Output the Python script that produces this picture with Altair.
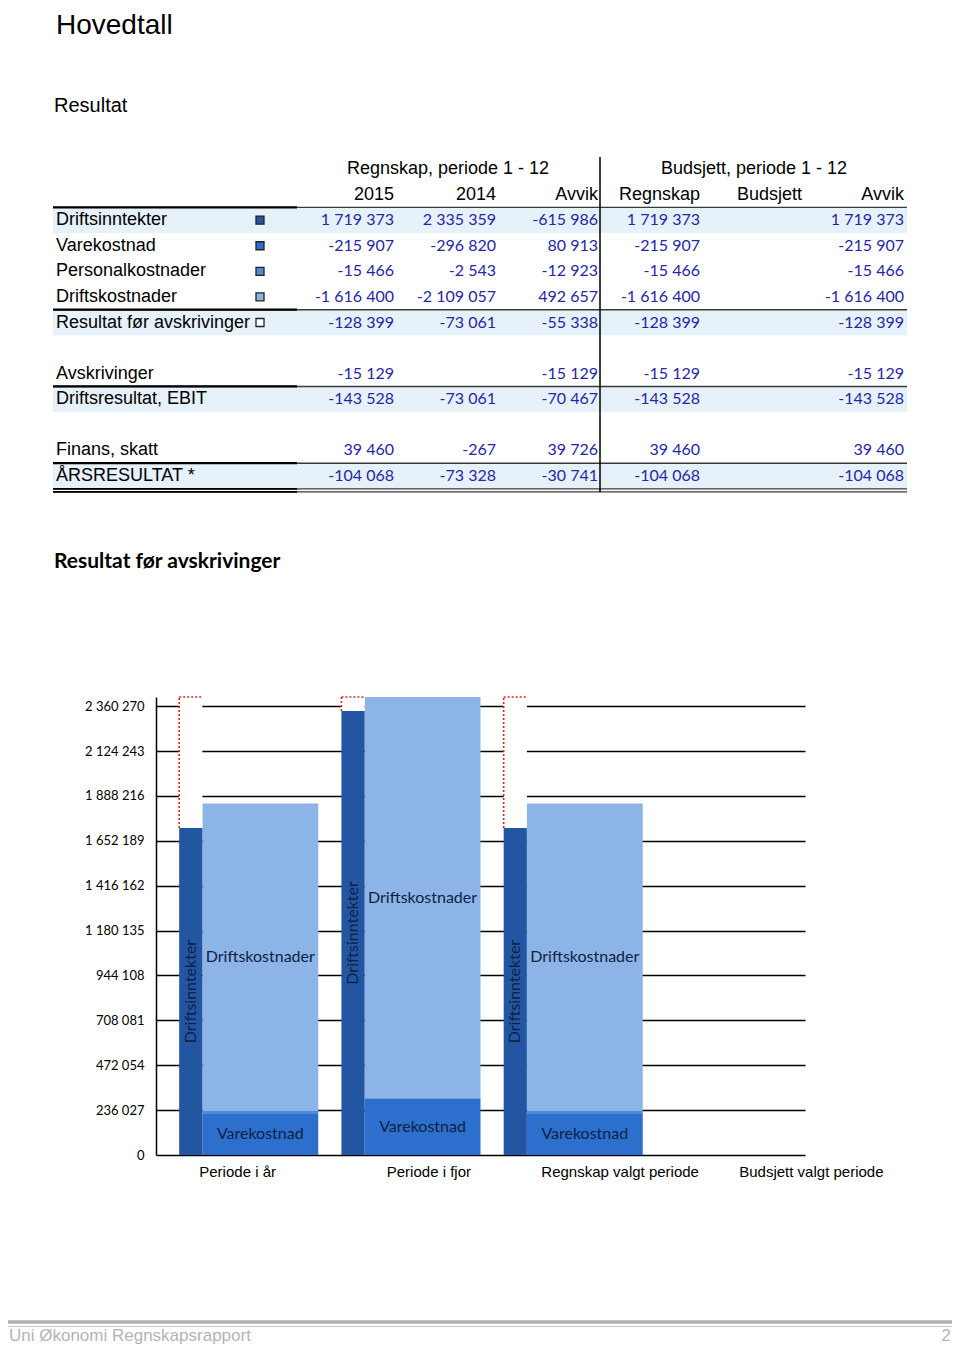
import altair as alt
import pandas as pd

# ---------------- data: table ----------------
row_labels = ["Driftsinntekter", "Varekostnad", "Personalkostnader", "Driftskostnader",
              "Resultat før avskrivinger", "", "Avskrivinger", "Driftsresultat, EBIT", "",
              "Finans, skatt", "ÅRSRESULTAT *"]
regnskap_2015 = [1719373, -215907, -15466, -1616400, -128399, None, -15129, -143528, None, 39460, -104068]
regnskap_2014 = [2335359, -296820, -2543, -2109057, -73061, None, None, -73061, None, -267, -73328]
avvik_aar = [-615986, 80913, -12923, 492657, -55338, None, -15129, -70467, None, 39726, -30741]
budsj_regnskap = [1719373, -215907, -15466, -1616400, -128399, None, -15129, -143528, None, 39460, -104068]
budsjett = [None, None, None, None, None, None, None, None, None, None, None]
avvik_budsjett = [1719373, -215907, -15466, -1616400, -128399, None, -15129, -143528, None, 39460, -104068]

col_keys = ["c2015", "c2014", "cavvik1", "cregn", "cbud", "cavvik2"]
col_headers = ["2015", "2014", "Avvik", "Regnskap", "Budsjett", "Avvik"]
group_headers = ["Regnskap, periode 1 - 12", "Budsjett, periode 1 - 12"]
group_header_cols = ["c2014", "cbud"]
highlight_rows = ["Driftsinntekter", "Resultat før avskrivinger", "Driftsresultat, EBIT", "ÅRSRESULTAT *"]
legend_rows = ["Driftsinntekter", "Varekostnad", "Personalkostnader", "Driftskostnader",
               "Resultat før avskrivinger"]

# ---------------- data: chart ----------------
categories = ["Periode i år", "Periode i fjor", "Regnskap valgt periode", "Budsjett valgt periode"]
driftsinntekter = [1719373, 2335359, 1719373, 0]
varekostnad = [215907, 296820, 215907, 0]
personalkostnader = [15466, 2543, 15466, 0]
driftskostnader = [1616400, 2109057, 1616400, 0]
y_ticks = [0, 236027, 472054, 708081, 944108, 1180135, 1416162, 1652189, 1888216, 2124243, 2360270]

series_colors = {
    "Driftsinntekter": "#2256a3",
    "Varekostnad": "#2c6fcd",
    "Personalkostnader": "#5089d8",
    "Driftskostnader": "#8db4e6",
    "Resultat før avskrivinger": "#ffffff",
}

# ---------------- build tables ----------------
def fmt(v):
    return f"{v:,}".replace(",", " ")

col_values = [regnskap_2015, regnskap_2014, avvik_aar, budsj_regnskap, budsjett, avvik_budsjett]
num_rows = []
for i, lab in enumerate(row_labels):
    for key, vals in zip(col_keys, col_values):
        if vals[i] is not None:
            num_rows.append({"row": i + 2, "col": key, "text": fmt(vals[i])})
num_df = pd.DataFrame(num_rows)

label_df = pd.DataFrame([{"row": i + 2, "label": lab} for i, lab in enumerate(row_labels) if lab])
hl_df = pd.DataFrame([{"row": row_labels.index(l) + 2} for l in highlight_rows])
last_df = pd.DataFrame([{"row": row_labels.index("ÅRSRESULTAT *") + 2}])
legend_df = pd.DataFrame([{"row": row_labels.index(l) + 2, "series": l} for l in legend_rows])
head1_df = pd.DataFrame({"col": col_keys, "text": col_headers, "row": 1})
head0_df = pd.DataFrame({"col": group_header_cols, "text": group_headers, "row": 0})

stack_rows = []
for gi, cat in enumerate(categories):
    for order, (name, vals) in enumerate([("Varekostnad", varekostnad),
                                          ("Personalkostnader", personalkostnader),
                                          ("Driftskostnader", driftskostnader)]):
        stack_rows.append({"cat": cat, "gi": gi, "series": name, "order": order, "value": vals[gi]})
stack_df = pd.DataFrame(stack_rows)
inn_df = pd.DataFrame({"cat": categories, "gi": list(range(len(categories))),
                       "series": "Driftsinntekter", "value": driftsinntekter})
y_top = max(v + p + d for v, p, d in zip(varekostnad, personalkostnader, driftskostnader))
cat_df = pd.DataFrame({"cat": categories})

# ---------------- scales / helpers ----------------
ARIAL = "Liberation Sans"
CALIBRI = "Lato"
N_ROWS = 13
ROW_RANGE = [-540.8, -208.2]
COL_RANGE = [136, 748]
SLOTS = 7

def row_y(band=0.5):
    return alt.Y("row:O", scale=alt.Scale(type="band", domain=list(range(N_ROWS)), range=ROW_RANGE,
                                          paddingInner=0, paddingOuter=0),
                 axis=None, bandPosition=band)

def col_x(band):
    return alt.X("col:N", scale=alt.Scale(type="band", domain=col_keys, range=COL_RANGE,
                                          paddingInner=0, paddingOuter=0),
                 axis=None, bandPosition=band)

color_scale = alt.Scale(domain=list(series_colors.keys()), range=list(series_colors.values()))
bx_scale = alt.Scale(domain=[0, SLOTS * len(categories)], nice=False, zero=False)
by_scale = alt.Scale(domain=[0, y_top], nice=False, zero=True)

one = pd.DataFrame({"k": [0]})

# ---------------- table layers ----------------
bg = alt.Chart(hl_df).mark_rect(color="#e6f1fa").encode(
    y=alt.Y("row:O", scale=alt.Scale(type="band", domain=list(range(N_ROWS)), range=ROW_RANGE,
                                     paddingInner=0, paddingOuter=0), axis=None),
    x=alt.value(-103), x2=alt.value(751))

line_thin = alt.Chart(hl_df).mark_rule(color="#3a3a3a", strokeWidth=1.4).encode(
    y=row_y(0), x=alt.value(-103), x2=alt.value(751))
line_thick = alt.Chart(hl_df).mark_rule(color="#000000", strokeWidth=2.2).encode(
    y=row_y(0), x=alt.value(-103), x2=alt.value(141))
dbl1 = alt.Chart(last_df).mark_rule(color="#3a3a3a", strokeWidth=1.3).encode(
    y=row_y(1), x=alt.value(-103), x2=alt.value(751))
dbl2 = alt.Chart(last_df).mark_rule(color="#3a3a3a", strokeWidth=1.3, yOffset=3).encode(
    y=row_y(1), x=alt.value(-103), x2=alt.value(751))
dbl1b = alt.Chart(last_df).mark_rule(color="#000000", strokeWidth=1.8).encode(
    y=row_y(1), x=alt.value(-103), x2=alt.value(141))
dbl2b = alt.Chart(last_df).mark_rule(color="#000000", strokeWidth=1.8, yOffset=3).encode(
    y=row_y(1), x=alt.value(-103), x2=alt.value(141))
vline = alt.Chart(one).mark_rule(color="#000000", strokeWidth=1.5).encode(
    x=alt.value(444), y=alt.value(-540), y2=alt.value(-205))

row_text = alt.Chart(label_df).mark_text(align="left", baseline="middle", font=ARIAL,
                                         fontSize=18, color="#000000").encode(
    y=row_y(), x=alt.value(-100), text="label:N")
num_text = alt.Chart(num_df).mark_text(align="right", baseline="middle", font=CALIBRI,
                                       fontSize=16, color="#2626a6").encode(
    y=row_y(), x=col_x(1), text="text:N")
head1_text = alt.Chart(head1_df).mark_text(align="right", baseline="middle", font=ARIAL,
                                           fontSize=18, color="#000000").encode(
    y=row_y(), x=col_x(1), text="text:N")
head0_text = alt.Chart(head0_df).mark_text(align="center", baseline="middle", font=ARIAL,
                                           fontSize=18, color="#000000", dx=3).encode(
    y=row_y(), x=col_x(0.5), text="text:N")
squares = alt.Chart(legend_df).mark_square(size=64, stroke="#222222", strokeWidth=1.3,
                                           opacity=1).encode(
    y=row_y(), x=alt.value(104),
    fill=alt.Fill("series:N", scale=color_scale, legend=None))

title_main = alt.Chart(one).mark_text(align="left", baseline="alphabetic", font=ARIAL,
                                      fontSize=28, color="#000000").encode(
    x=alt.value(-100), y=alt.value(-663), text=alt.value("Hovedtall"))
title_res = alt.Chart(one).mark_text(align="left", baseline="middle", font=ARIAL,
                                     fontSize=20, color="#000000").encode(
    x=alt.value(-102), y=alt.value(-591), text=alt.value("Resultat"))
title_chart = alt.Chart(one).mark_text(align="left", baseline="middle", font=CALIBRI,
                                       fontSize=21, fontWeight="bold", color="#000000").encode(
    x=alt.value(-102), y=alt.value(-135), text=alt.value("Resultat før avskrivinger"))

# ---------------- chart layers ----------------
stack_base = alt.Chart(stack_df).transform_window(
    top="sum(value)", groupby=["gi"], sort=[alt.SortField("order")], frame=[None, 0]
).transform_calculate(
    bottom="datum.top - datum.value",
    mid="(datum.top + datum.bottom) / 2",
    x0=f"datum.gi * {SLOTS} + 2",
    x1=f"datum.gi * {SLOTS} + {SLOTS}",
    xm=f"datum.gi * {SLOTS} + ({SLOTS} + 2) / 2",
).transform_filter("datum.value > 0")

wide_bars = stack_base.mark_bar().encode(
    x=alt.X("x0:Q", scale=bx_scale, axis=None), x2="x1:Q",
    y=alt.Y("bottom:Q", scale=by_scale, title=None,
            axis=alt.Axis(orient="left", values=y_ticks,
                          labelExpr="replace(format(datum.value, ',d'), regexp(',', 'g'), ' ')",
                          grid=True, gridColor="#000000", gridWidth=1.5, gridOpacity=1,
                          domain=True, domainColor="#000000", domainWidth=1.5,
                          ticks=False, labelPadding=12, labelFont=CALIBRI, labelFontSize=13,
                          labelColor="#000000")),
    y2="top:Q",
    fill=alt.Fill("series:N", scale=color_scale, legend=None))

wide_labels = stack_base.transform_filter(
    "datum.series != 'Personalkostnader'"
).mark_text(font=CALIBRI, fontSize=16, color="#0e2244", baseline="middle").encode(
    x=alt.X("xm:Q", scale=bx_scale, axis=None),
    y=alt.Y("mid:Q", scale=by_scale, axis=None),
    text="series:N")

inn_base = alt.Chart(inn_df).transform_filter("datum.value > 0").transform_calculate(
    x0=f"datum.gi * {SLOTS} + 1",
    x1=f"datum.gi * {SLOTS} + 2",
    xm=f"datum.gi * {SLOTS} + 1.5",
    mid="datum.value / 2",
    ytop=f"{y_top}",
)

remainder = inn_base.mark_bar(color="#ffffff").encode(
    x=alt.X("x0:Q", scale=bx_scale, axis=None), x2="x1:Q",
    y=alt.Y("value:Q", scale=by_scale, axis=None), y2="ytop:Q")
red_left = inn_base.mark_rule(color="#e0261e", strokeWidth=1.6, strokeDash=[2, 2]).encode(
    x=alt.X("x0:Q", scale=bx_scale, axis=None),
    y=alt.Y("value:Q", scale=by_scale, axis=None), y2="ytop:Q")
red_top = inn_base.mark_rule(color="#e0261e", strokeWidth=1.6, strokeDash=[2, 2]).encode(
    x=alt.X("x0:Q", scale=bx_scale, axis=None), x2="x1:Q",
    y=alt.Y("ytop:Q", scale=by_scale, axis=None))
inn_bars = inn_base.mark_bar().encode(
    x=alt.X("x0:Q", scale=bx_scale, axis=None), x2="x1:Q",
    y=alt.Y("value:Q", scale=by_scale, axis=None), y2=alt.datum(0),
    fill=alt.Fill("series:N", scale=color_scale, legend=None))
inn_labels = inn_base.mark_text(font=CALIBRI, fontSize=16, color="#0e2244", angle=270,
                                baseline="middle").encode(
    x=alt.X("xm:Q", scale=bx_scale, axis=None),
    y=alt.Y("mid:Q", scale=by_scale, axis=None),
    text="series:N")

cat_labels = alt.Chart(cat_df).mark_text(font=ARIAL, fontSize=15, color="#000000",
                                         baseline="middle").encode(
    x=alt.X("cat:N", scale=alt.Scale(type="band", domain=categories, range=[-14, 751],
                                     paddingInner=0, paddingOuter=0),
            axis=None, bandPosition=0.5),
    y=alt.value(475), text="cat:N")

# ---------------- footer ----------------
foot1 = alt.Chart(one).mark_rule(color="#b0b0b0", strokeWidth=3.5).encode(
    x=alt.value(-148), x2=alt.value(796), y=alt.value(625))
foot2 = alt.Chart(one).mark_rule(color="#c8c8c8", strokeWidth=1.2).encode(
    x=alt.value(-148), x2=alt.value(796), y=alt.value(629.5))
foot_text = alt.Chart(one).mark_text(align="left", baseline="middle", font=ARIAL, fontSize=17,
                                     color="#b4b4b4").encode(
    x=alt.value(-147), y=alt.value(639), text=alt.value("Uni Økonomi Regnskapsrapport"))
foot_page = alt.Chart(one).mark_text(align="right", baseline="middle", font=ARIAL, fontSize=17,
                                     color="#b4b4b4").encode(
    x=alt.value(795), y=alt.value(639), text=alt.value("2"))

chart = alt.layer(
    wide_bars, bg, line_thin, line_thick, dbl1, dbl2, dbl1b, dbl2b, vline,
    row_text, num_text, head1_text, head0_text, squares,
    title_main, title_res, title_chart,
    remainder, red_left, red_top, inn_bars, wide_labels, inn_labels, cat_labels,
    foot1, foot2, foot_text, foot_page,
).resolve_scale(x="independent", y="independent").properties(
    width=649, height=458,
    autosize=alt.AutoSizeParams(type="none"),
    padding={"left": 148, "top": 689, "right": 147, "bottom": 194},
).configure_view(stroke=None)

chart.save("out.html", embed_options={"renderer": "svg", "actions": False})
